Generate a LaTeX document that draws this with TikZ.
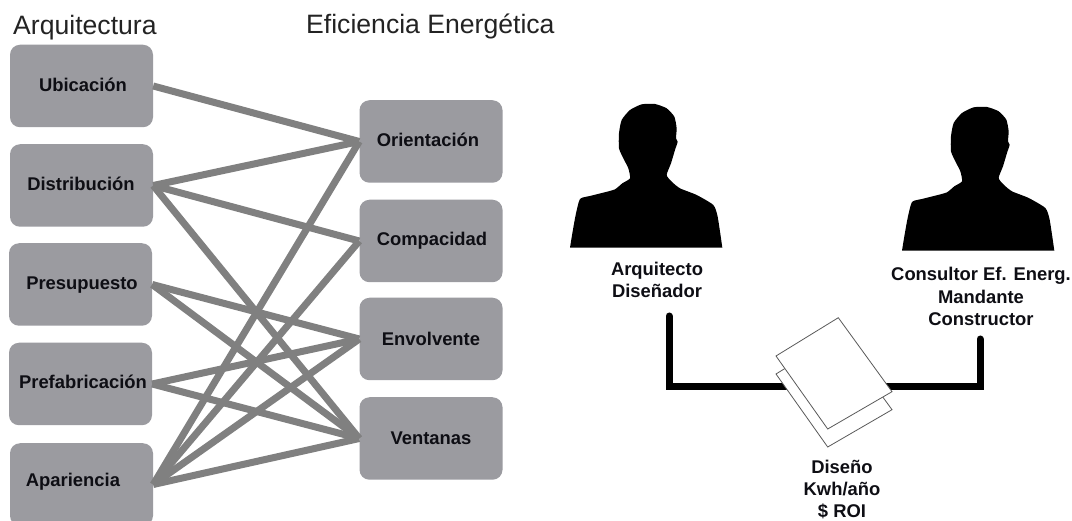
\documentclass[tikz,border=0pt]{standalone}
\usepackage{fontspec}
\setmainfont{Liberation Sans}
\tikzset{
  x=1pt,y=-1pt,
  boxnode/.style={draw=none,fill=boxgray,rounded corners=10pt,minimum width=143pt,minimum height=82.5pt,inner sep=0pt},
  boxtext/.style={anchor=base,inner sep=0pt,text=textdark,font=\fontsize{18.4}{22}\selectfont\bfseries},
  heading/.style={anchor=base west,inner sep=0pt,text=headgray,font=\fontsize{26.6}{30}\selectfont},
  caption/.style={inner sep=0pt,align=center,text=textdark,font=\fontsize{18.4}{22.3}\selectfont\bfseries},
  link/.style={draw=linegray,line width=7pt},
  wire/.style={draw=black,line width=7pt,line cap=round,line join=miter},
  sheet/.style={draw=sheetgray,fill=white,line width=0.8pt,line join=miter},
  person/.style={fill=black,draw=none},
}
\definecolor{boxgray}{RGB}{155,155,160}
\definecolor{linegray}{RGB}{128,128,128}
\definecolor{textdark}{RGB}{14,14,20}
\definecolor{headgray}{RGB}{35,35,35}
\definecolor{sheetgray}{RGB}{90,90,90}
\newcommand{\silhouette}[2]{%
  \fill[person,shift={(#1,#2)},x=0.3333pt,y=-0.3333pt]
    plot[smooth,tension=0.35] coordinates {(15,443)(22,400)(32,345)(45,297)(75,288)(115,278)(150,268)(172,250)(195,235)(190,205)(175,175)(162,145)(162,100)(170,60)(195,30)(230,13)(270,12)(305,25)(328,50)(335,85)(333,115)(338,125)(330,150)(318,190)(305,225)(320,245)(345,265)(395,285)(445,315)(458,350)(472,443)} -- cycle;}
\begin{document}
\begin{tikzpicture}
\useasboundingbox (0,0) rectangle (1072,521);
\fill[white] (0,0) rectangle (1072,521);
\begin{scope}
\clip (0,0) rectangle (1072,521);
% left column
\node[boxnode] (ubi) at (81.5,86) {};
\node[boxnode] (dis) at (81.5,185.5) {};
\node[boxnode] (pre) at (80.5,284.5) {};
\node[boxnode] (fab) at (80.5,384) {};
\node[boxnode] (apa) at (81.5,484.5) {};
% right column
\node[boxnode] (ori) at (431,141.5) {};
\node[boxnode] (com) at (431,241) {};
\node[boxnode] (env) at (431,339) {};
\node[boxnode] (ven) at (431,438.5) {};
% links
\draw[link] (ubi.east) -- (ori.west);
\draw[link] (dis.east) -- (ori.west);
\draw[link] (dis.east) -- (com.west);
\draw[link] (dis.east) -- (ven.west);
\draw[link] (pre.east) -- (env.west);
\draw[link] (pre.east) -- (ven.west);
\draw[link] (fab.east) -- (env.west);
\draw[link] (fab.east) -- (ven.west);
\draw[link] (apa.east) -- (ori.west);
\draw[link] (apa.east) -- (com.west);
\draw[link] (apa.east) -- (env.west);
\draw[link] (apa.east) -- (ven.west);
\end{scope}
% box texts
\node[boxtext] (tubi) at (83,92) {Ubicación};
\node[boxtext] (tdis) at (81,191) {Distribución};
\node[boxtext] (tpre) at (82,290) {Presupuesto};
\node[boxtext] (tfab) at (83,389) {Prefabricación};
\node[boxtext] (tapa) at (73,486) {Apariencia};
\node[boxtext] (tori) at (428,147) {Orientación};
\node[boxtext] (tcom) at (432,246) {Compacidad};
\node[boxtext] (tenv) at (431,346) {Envolvente};
\node[boxtext] (tven) at (431,445) {Ventanas};
% headings
\node[heading] (harq) at (13,35) {Arquitectura};
\node[heading] (hefi) at (306,34) {Eficiencia Energética};
% people
\silhouette{565}{100}
\silhouette{897}{103}
\node[caption] (carq) at (657,280) {Arquitecto\\Diseñador};
\node[caption] (ccon) at (981,296.5) {Consultor Ef. Energ.\\Mandante\\Constructor};
\node[caption] (cdis) at (842,489.5) {Diseño\\Kwh/año\\\$ ROI};
% wire and sheets
\coordinate (wa) at (669,316);
\coordinate (wb) at (669,387);
\coordinate (wc) at (980,387);
\coordinate (wd) at (980,339);
\draw[wire] (wa) -- (wb) -- (wc) -- (wd);
\draw[sheet] (838.3,335.7) -- (776,374) -- (827.7,447) -- (892,409.7) -- cycle;
\draw[sheet] (838.3,317.7) -- (776,356) -- (827.7,429) -- (892,391.7) -- cycle;
\end{tikzpicture}
\end{document}
